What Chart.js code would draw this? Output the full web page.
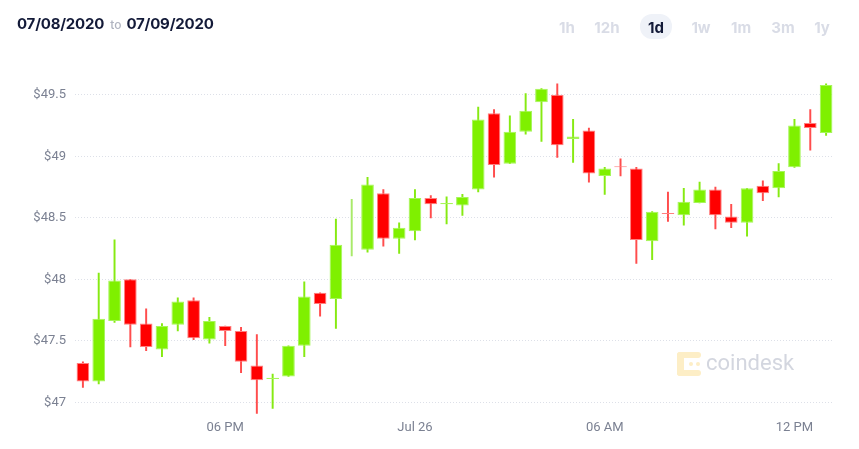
<!DOCTYPE html>
<html>
<head>
<meta charset="utf-8">
<script src="https://cdn.jsdelivr.net/npm/chart.js@4.4.0/dist/chart.umd.min.js"></script>
<style>
  body { margin: 0; background: #fff; }
  #wrap { position: relative; width: 859px; height: 449px; overflow: hidden; font-family: Inter, Roboto, sans-serif; }
  #chart { position: absolute; left: 0; top: 0; }
  .range { position: absolute; left: 17px; top: 14px; font-size: 15px; font-weight: 700; color: #131a38; white-space: nowrap; letter-spacing: -0.2px; }
  .range .to { font-size: 12px; font-weight: 500; color: #b0b4c0; margin: 0 5px 0 6px; letter-spacing: 0; }
  .periods span { position: absolute; top: 18px; font-size: 15px; font-weight: 700; color: #d9dce6; transform: translateX(-50%); }
  .periods .active { color: #131a38; }
  .pill { position: absolute; left: 640px; top: 14px; width: 32px; height: 25px; border-radius: 12px; background: #eff2f8; }
  .mark { position: absolute; left: 677px; top: 352px; height: 24px; }
  .mark svg { position: absolute; left: 0; top: 0; }
  .mark .word { position: absolute; left: 29px; top: -4px; font-family: Roboto, sans-serif; font-size: 22px; line-height: 30px; color: #d3d6df; white-space: nowrap; }
</style>
</head>
<body>
<div id="wrap">
  <canvas id="chart" width="859" height="449"></canvas>
  <div class="range">07/08/2020<span class="to">to</span>07/09/2020</div>
  <div class="pill"></div>
  <div class="periods">
    <span style="left:567px">1h</span>
    <span style="left:607px">12h</span>
    <span class="active" style="left:656px">1d</span>
    <span style="left:701px">1w</span>
    <span style="left:741px">1m</span>
    <span style="left:783px">3m</span>
    <span style="left:822px">1y</span>
  </div>
  <div class="mark">
    <svg width="25" height="24" viewBox="0 0 25 24">
      <g fill="#fdeec6">
        <rect x="0" y="0" width="7" height="24" rx="3"/>
        <rect x="0" y="0" width="24" height="6" rx="3"/>
        <rect x="0" y="18" width="24" height="6" rx="3"/>
        <circle cx="14" cy="12" r="2"/>
        <circle cx="21" cy="12" r="2"/>
      </g>
    </svg>
    <span class="word">coindesk</span>
  </div>
</div>
<script>
// 30 minute candles
const times = [
  "01:30 PM", "02:00 PM", "02:30 PM", "03:00 PM", "03:30 PM", "04:00 PM", "04:30 PM", "05:00 PM",
  "05:30 PM", "06:00 PM", "06:30 PM", "07:00 PM", "07:30 PM", "08:00 PM", "08:30 PM", "09:00 PM",
  "09:30 PM", "10:00 PM", "10:30 PM", "11:00 PM", "11:30 PM", "12:00 AM", "12:30 AM", "01:00 AM",
  "01:30 AM", "02:00 AM", "02:30 AM", "03:00 AM", "03:30 AM", "04:00 AM", "04:30 AM", "05:00 AM",
  "05:30 AM", "06:00 AM", "06:30 AM", "07:00 AM", "07:30 AM", "08:00 AM", "08:30 AM", "09:00 AM",
  "09:30 AM", "10:00 AM", "10:30 AM", "11:00 AM", "11:30 AM", "12:00 PM", "12:30 PM", "01:00 PM"
];

const open = [47.32, 47.17, 47.66, 48.00, 47.64, 47.43, 47.63, 47.83, 47.51, 47.62, 47.58, 47.30,
  47.19, 47.21, 47.46, 47.89, 47.84, null, 48.24, 48.70, 48.33, 48.39, 48.66, 48.61,
  48.60, 48.73, 49.35, 48.94, 49.20, 49.44, 49.50, 49.14, 49.21, 48.84, 48.92, 48.90,
  48.31, 48.54, 48.52, 48.62, 48.73, 48.51, 48.46, 48.76, 48.74, 48.91, 49.27, 49.19];
const high = [47.33, 48.05, 48.32, 48.00, 47.76, 47.64, 47.85, 47.85, 47.69, 47.62, 47.61, 47.55,
  47.23, 47.46, 47.98, 47.89, 48.49, 48.65, 48.83, 48.73, 48.46, 48.73, 48.68, 48.67,
  48.69, 49.40, 49.38, 49.33, 49.51, 49.55, 49.59, 49.30, 49.23, 48.91, 48.98, 48.91,
  48.55, 48.71, 48.74, 48.79, 48.75, 48.61, 48.74, 48.80, 48.94, 49.30, 49.38, 49.59];
const low = [47.12, 47.15, 47.65, 47.45, 47.42, 47.37, 47.58, 47.51, 47.48, 47.46, 47.24, 46.91,
  46.95, 47.21, 47.37, 47.70, 47.60, 48.19, 48.22, 48.27, 48.21, 48.32, 48.50, 48.45,
  48.52, 48.71, 48.83, 48.94, 49.18, 49.12, 48.99, 48.95, 48.79, 48.69, 48.84, 48.13,
  48.16, 48.47, 48.44, 48.62, 48.41, 48.42, 48.35, 48.64, 48.67, 48.91, 49.05, 49.17];
const close = [47.17, 47.68, 47.99, 47.63, 47.45, 47.62, 47.82, 47.52, 47.66, 47.58, 47.33, 47.18,
  47.20, 47.46, 47.86, 47.80, 48.28, null, 48.77, 48.33, 48.42, 48.66, 48.61, 48.62,
  48.67, 49.30, 48.93, 49.20, 49.37, 49.55, 49.09, 49.16, 48.86, 48.90, 48.91, 48.32,
  48.55, 48.53, 48.63, 48.73, 48.52, 48.46, 48.74, 48.70, 48.88, 49.25, 49.23, 49.58];

const yTicks = [47, 47.5, 48, 48.5, 49, 49.5];
const xTickLabels = { "06:00 PM": "06 PM", "12:00 AM": "Jul 26", "06:00 AM": "06 AM", "12:00 PM": "12 PM" };

const isUp = (i) => open[i] === null || close[i] >= open[i];

const bodies = times.map((t, i) => (open[i] === null ? null : [open[i], close[i]]));
const wicks = times.map((t, i) => [low[i], high[i]]);

const labelColor = "#7b8192";
const tickFont = { family: "Roboto", size: 13 };

new Chart(document.getElementById("chart"), {
  type: "bar",
  data: {
    labels: times,
    datasets: [
      {
        label: "body",
        data: bodies,
        grouped: false,
        barPercentage: 1,
        categoryPercentage: 0.8,
        backgroundColor: times.map((t, i) => (isUp(i) ? "#7ff000" : "#ff0000")),
        borderColor: times.map((t, i) => (isUp(i) ? "#a6f55a" : "#ff7f7f")),
        borderWidth: 1,
        borderSkipped: false,
      },
      {
        label: "wick",
        data: wicks,
        grouped: false,
        barThickness: 1.3,
        backgroundColor: times.map((t, i) => (open[i] === null ? "#a9ea6a" : isUp(i) ? "#86ea12" : "#ff4d4d")),
      },
    ],
  },
  options: {
    responsive: false,
    animation: false,
    layout: { padding: { top: 82.5, right: 25, left: 0, bottom: 0 } },
    plugins: { legend: { display: false }, tooltip: { enabled: false } },
    scales: {
      x: {
        grid: { display: false, drawTicks: false },
        border: { display: false },
        ticks: {
          autoSkip: false,
          maxRotation: 0,
          padding: 5,
          color: labelColor,
          font: tickFont,
          callback: (v, i) => xTickLabels[times[i]] || "",
        },
        afterFit: (axis) => {
          axis.height = 34.4;
        },
      },
      y: {
        min: 46.9,
        max: 49.6,
        grid: { color: "#dde0e8", drawTicks: false, lineWidth: 1 },
        border: { display: false, dash: [1, 2] },
        ticks: {
          padding: 9,
          color: labelColor,
          font: tickFont,
          callback: (v) => "$" + v,
        },
        afterBuildTicks: (axis) => {
          axis.ticks = yTicks.map((v) => ({ value: v }));
        },
        afterFit: (axis) => {
          axis.width = 75;
        },
      },
    },
  },
});
</script>
</body>
</html>
